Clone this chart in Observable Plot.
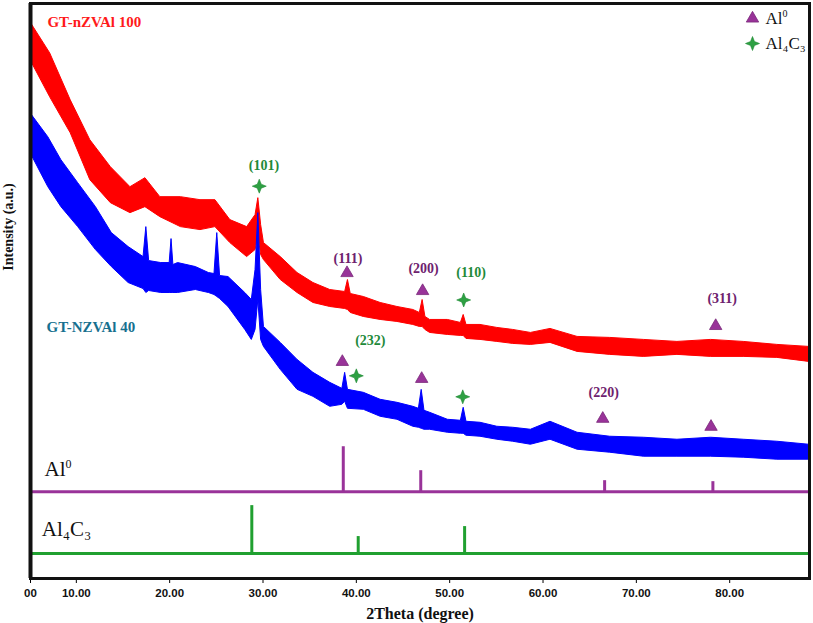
<!DOCTYPE html>
<html>
<head>
<meta charset="utf-8">
<script src="https://cdn.jsdelivr.net/npm/d3@7"></script>
<script src="https://cdn.jsdelivr.net/npm/@observablehq/plot@0.6"></script>
<style>
  html, body { margin: 0; padding: 0; background: #fff; }
  #chart svg { display: block; overflow: visible; }
</style>
</head>
<body>
<div id="chart"></div>
<script>
// ---- Data (2θ in degrees, intensity in a.u.) ----
// GT-nZVAl 100 (red): band of the noisy trace, lower / upper envelope
const theta100 = [5.1, 7.2, 9.4, 11.5, 13.7, 15.8, 17.4, 19.0, 21.2, 23.3, 24.9, 26.5, 28.3, 29.2, 29.5, 29.8, 30.1, 31.9, 33.7, 35.4, 37.2, 38.8, 39.1, 39.4, 40.8, 42.6, 44.4, 46.1, 46.8, 47.1, 47.4, 47.9, 49.8, 51.2, 51.5, 51.8, 53.3, 55.1, 56.8, 58.7, 60.8, 63.7, 67.2, 70.8, 74.4, 78.0, 81.5, 85.1, 88.5];
const lo100    = [519, 482, 446, 399, 376, 366, 372, 362, 352, 349, 352, 336, 322, 329, 344, 324, 319, 299, 286, 276, 272, 270, 269, 266, 262, 259, 257, 254, 252, 252, 249, 246, 244, 243, 243, 240, 239, 237, 235, 234, 236, 227, 224, 222, 224, 222, 222, 221, 217];
const hi100    = [557, 526, 479, 439, 412, 392, 401, 382, 382, 379, 379, 359, 352, 364, 381, 354, 336, 322, 306, 296, 289, 287, 299, 285, 282, 276, 272, 269, 266, 279, 262, 259, 259, 256, 264, 254, 254, 251, 249, 246, 250, 242, 241, 239, 237, 239, 237, 234, 232];

// GT-NZVAl 40 (blue)
const theta40 = [5.1, 7.0, 8.4, 10.2, 12.1, 13.8, 15.6, 17.2, 17.5, 17.8, 19.1, 20.0, 20.2, 20.4, 20.9, 22.8, 24.2, 24.8, 25.1, 25.4, 26.3, 28.1, 28.8, 29.2, 29.5, 29.8, 30.1, 31.9, 33.7, 35.4, 37.2, 38.5, 38.8, 39.1, 40.8, 42.6, 44.4, 46.1, 46.7, 47.0, 47.3, 47.9, 49.8, 51.2, 51.5, 51.8, 53.3, 55.1, 56.8, 58.7, 60.8, 63.7, 67.2, 70.8, 74.4, 78.0, 81.5, 85.1, 88.5];
const lo40    = [426, 392, 372, 352, 329, 312, 296, 290, 286, 288, 286, 286, 286, 286, 286, 289, 286, 284, 282, 280, 272, 249, 239, 249, 279, 239, 232, 209, 189, 182, 172, 174, 177, 170, 169, 162, 159, 152, 151, 150, 149, 149, 146, 145, 145, 143, 142, 139, 137, 134, 139, 129, 126, 122, 122, 122, 121, 119, 119];
const hi40    = [466, 442, 419, 396, 372, 346, 332, 322, 352, 318, 316, 316, 340, 314, 316, 312, 306, 305, 346, 303, 302, 286, 279, 309, 366, 289, 252, 236, 219, 206, 196, 190, 206, 189, 186, 179, 176, 172, 170, 189, 168, 166, 159, 158, 171, 157, 156, 152, 151, 149, 157, 146, 142, 141, 139, 141, 139, 137, 134];

// Reference stick patterns
const al0Base = 87;
const al0Theta = [38.6, 46.9, 66.6, 78.2];
const al0Height = [45, 21, 11, 10];
const al4c3Base = 25;
const al4c3Theta = [28.8, 40.2, 51.6];
const al4c3Height = [48, 17, 27];

// Peak markers
const triTheta = [39.0, 47.1, 78.5, 38.5, 47.0, 66.4, 78.0];
const triI     = [306, 288, 253, 217, 200, 160, 152];
const starTheta = [29.6, 51.5, 40.0, 51.4];
const starI     = [393, 279, 203, 182];

// Peak (hkl) labels
const hklText  = ["(101)", "(111)", "(200)", "(110)", "(232)", "(311)", "(220)"];
const hklTheta = [30.1, 39.1, 47.2, 52.3, 41.5, 79.2, 66.5];
const hklI     = [414, 321, 311, 307, 238, 280, 186];
const hklPhase = ["Al4C3", "Al0", "Al0", "Al4C3", "Al4C3", "Al0", "Al0"];

// Axis
const xDomain = [5.09, 88.55];
const tickValues = [5.09, 10, 20, 30, 40, 50, 60, 70, 80];
const tickLabels = ["00", "10.00", "20.00", "30.00", "40.00", "50.00", "60.00", "70.00", "80.00"];

// ---- Build tables ----
const band100 = theta100.map((t, i) => ({theta: t, lo: lo100[i], hi: hi100[i]}));
const band40 = theta40.map((t, i) => ({theta: t, lo: lo40[i], hi: hi40[i]}));
const sticksAl0 = al0Theta.map((t, i) => ({theta: t, y1: al0Base, y2: al0Base + al0Height[i]}));
const sticksAl4C3 = al4c3Theta.map((t, i) => ({theta: t, y1: al4c3Base, y2: al4c3Base + al4c3Height[i]}));
const tris = triTheta.map((t, i) => ({theta: t, I: triI[i]}));
const stars = starTheta.map((t, i) => ({theta: t, I: starI[i]}));
const hkl = hklText.map((s, i) => ({text: s, theta: hklTheta[i], I: hklI[i], phase: hklPhase[i]}));

const PURPLE = "#993399";
const PURPLE_TXT = "#6e226e";
const GREEN = "#20a030";
const GREEN_TXT = "#1f8a3a";
const STAR_FILL = "#2ea043";

// four-pointed star symbol
const star4 = {
  draw(context, size) {
    const r = Math.sqrt(size / Math.PI);
    const ri = r * 0.4;
    for (let k = 0; k < 8; k++) {
      const a = -Math.PI / 2 + k * Math.PI / 4;
      const rr = k % 2 === 0 ? r : ri;
      const x = rr * Math.cos(a), y = rr * Math.sin(a);
      if (k === 0) context.moveTo(x, y); else context.lineTo(x, y);
    }
    context.closePath();
  }
};

const serif = "Liberation Serif, Times New Roman, serif";

const chart = Plot.plot({
  width: 813,
  height: 623,
  marginLeft: 30,
  marginRight: 4,
  marginTop: 3,
  marginBottom: 45,
  style: {background: "#fff"},
  x: {domain: xDomain},
  y: {domain: [0, 576], axis: null},
  marks: [
    // noisy traces as bands
    Plot.areaY(band100, {x: "theta", y1: "lo", y2: "hi", fill: "#ff0000", stroke: "#ff0000", strokeWidth: 1}),
    Plot.areaY(band40, {x: "theta", y1: "lo", y2: "hi", fill: "#0000ff", stroke: "#0000ff", strokeWidth: 1}),

    // stick patterns
    Plot.ruleY([al0Base], {stroke: PURPLE, strokeWidth: 3}),
    Plot.ruleX(sticksAl0, {x: "theta", y1: "y1", y2: "y2", stroke: PURPLE, strokeWidth: 3}),
    Plot.ruleY([al4c3Base], {stroke: GREEN, strokeWidth: 3}),
    Plot.ruleX(sticksAl4C3, {x: "theta", y1: "y1", y2: "y2", stroke: GREEN, strokeWidth: 3}),

    // peak markers
    Plot.dot(tris, {x: "theta", y: "I", symbol: "triangle", r: 4.6, fill: PURPLE, stroke: "#7a2a7a", strokeWidth: 0.8}),
    Plot.dot(stars, {x: "theta", y: "I", symbol: star4, r: 7, fill: STAR_FILL, stroke: "#1e8a34", strokeWidth: 0.6}),

    // hkl labels
    Plot.text(hkl, {x: "theta", y: "I", text: "text", fill: d => d.phase === "Al0" ? PURPLE_TXT : GREEN_TXT,
      fontFamily: serif, fontWeight: "bold", fontSize: 14}),

    // series labels
    Plot.text(["GT-nZVAl 100"], {x: 6.9, y: 557, text: d => d, textAnchor: "start", fill: "#ff1a1a",
      fontFamily: serif, fontWeight: "bold", fontSize: 15}),
    Plot.text(["GT-NZVAl 40"], {x: 6.8, y: 252, text: d => d, textAnchor: "start", fill: "#17708f",
      fontFamily: serif, fontWeight: "bold", fontSize: 15}),

    // stick pattern labels
    Plot.text(["Al"], {x: 6.6, y: 109, text: d => d, textAnchor: "start", fill: "#111",
      fontFamily: serif, fontSize: 21}),
    Plot.text(["0"], {x: 6.6, y: 109, dx: 21, dy: -6, text: d => d, textAnchor: "start", fill: "#111",
      fontFamily: serif, fontSize: 12}),
    Plot.text(["Al₄C₃"], {x: 6.3, y: 49, text: d => d, textAnchor: "start", fill: "#111",
      fontFamily: serif, fontSize: 21}),

    // legend (top-right)
    Plot.dot([0], {frameAnchor: "top-right", dx: -57, dy: 15, symbol: "triangle", r: 4.6, fill: PURPLE, stroke: "#7a2a7a", strokeWidth: 0.8}),
    Plot.dot([0], {frameAnchor: "top-right", dx: -57, dy: 40, symbol: star4, r: 7, fill: STAR_FILL, stroke: "#1e8a34", strokeWidth: 0.6}),
    Plot.text(["Al"], {frameAnchor: "top-right", dx: -44, dy: 15, text: d => d, textAnchor: "start", lineAnchor: "middle", fill: "#111",
      fontFamily: serif, fontSize: 17}),
    Plot.text(["0"], {frameAnchor: "top-right", dx: -27, dy: 10, text: d => d, textAnchor: "start", lineAnchor: "middle", fill: "#111",
      fontFamily: serif, fontSize: 10}),
    Plot.text(["Al₄C₃"], {frameAnchor: "top-right", dx: -44, dy: 40, text: d => d, textAnchor: "start", lineAnchor: "middle", fill: "#111",
      fontFamily: serif, fontSize: 17}),

    // axes
    Plot.axisX({ticks: tickValues, tickFormat: (d, i) => tickLabels[i], tickSize: 5, tickPadding: 5,
      fontFamily: "Liberation Sans, Arial, sans-serif", fontWeight: "bold", fontSize: 11.5, fill: "#111",
      label: null}),
    Plot.text(["2Theta (degree)"], {frameAnchor: "bottom", dy: 35, lineAnchor: "middle", text: d => d, fill: "#111",
      fontFamily: serif, fontWeight: "bold", fontSize: 16}),
    Plot.text(["Intensity (a.u.)"], {frameAnchor: "left", textAnchor: "middle", lineAnchor: "middle", dx: -22, dy: -64, rotate: -90, text: d => d, fill: "#111",
      fontFamily: serif, fontWeight: "bold", fontSize: 14}),

    // frame
    Plot.frame({stroke: "#111", strokeWidth: 3}),
    Plot.ruleX([xDomain[0]], {stroke: "#111", strokeWidth: 4})
  ]
});

document.getElementById("chart").appendChild(chart);
</script>
</body>
</html>
